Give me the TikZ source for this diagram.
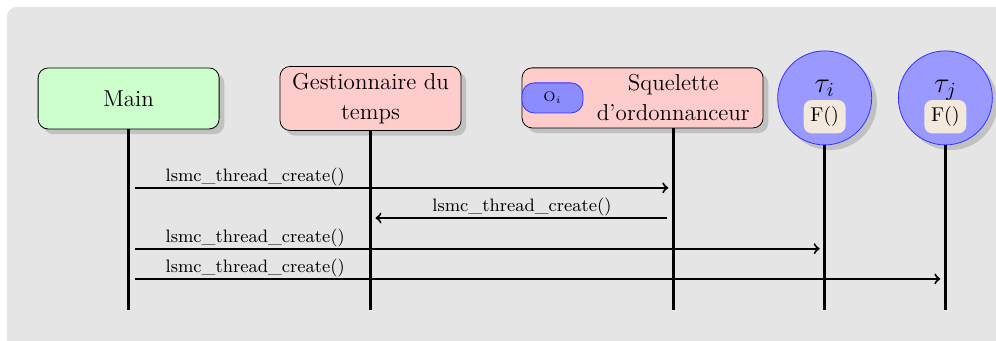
\documentclass[tikz,border=0pt]{standalone}
\usepackage{tikz}
\usetikzlibrary{shadows,calc}

\definecolor{fnbg}{RGB}{242,232,220}

\tikzset{
  shade/.style={drop shadow={shadow xshift=2.6pt, shadow yshift=-2.6pt, opacity=0.35}},
  actor/.style={draw, rounded corners=5pt, minimum height=30.5pt, minimum width=90.5pt,
    align=center, font=\fontsize{11.5}{15}\selectfont, shade},
  thread/.style={circle, draw=blue!80, fill=blue!40, minimum size=47pt, shade},
  pill/.style={draw=blue!80, fill=blue!45, rounded corners=6pt, minimum width=30.5pt,
    minimum height=15pt, font=\scriptsize},
  fnbox/.style={fill=fnbg, rounded corners=4pt},
  lifeline/.style={line width=1.5pt},
  msg/.style={->, line width=1pt, shorten <=3pt, shorten >=2.5pt},
  msglabel/.style={font=\small, inner sep=0.5pt},
}

\begin{document}
\begin{tikzpicture}
    \useasboundingbox (0,0) rectangle (17.5,5.99);
    \fill[black!10, rounded corners=5pt] (0.12,-0.3) rectangle (17.8,5.87);

    % acteurs
    \node[actor, fill=green!20] (main) at (2.26,4.26) {Main};
    \node[actor, fill=red!20] (gest) at (6.51,4.26) {Gestionnaire du\\temps};
    \node[actor, fill=red!20, minimum width=120.5pt, minimum height=30pt] (sqbox) at (11.29,4.27) {};
    \node[pill, anchor=west] (oi) at (sqbox.west) {$\mathrm{O}_i$};
    \node[align=center, font=\fontsize{11.5}{15}\selectfont] (sq) at (11.83,4.27) {Squelette\\d'ordonnanceur};
    \foreach \n/\x/\s in {ti/14.49/i, tj/16.61/j} {
        \node[thread] (\n) at (\x,4.27) {};
        \node[anchor=base, font=\Large] (tau\s) at ($(\n)+(0,0.1)$) {$\tau_\s$};
        \node[fnbox] (f\s) at ($(\n)+(0,-0.33)$) {F()};
    }

    % lignes de vie
    \draw[lifeline] (main.south) -- (main.south |- 0,0.55);
    \draw[lifeline] (gest.south) -- (gest.south |- 0,0.55);
    \draw[lifeline] (sq.south |- sqbox.south) -- (sq.south |- 0,0.55);
    \draw[lifeline] (ti.south) -- (ti.south |- 0,0.55);
    \draw[lifeline] (tj.south) -- (tj.south |- 0,0.55);

    % messages
    \foreach \to/\y in {sq/2.69, ti/1.62, tj/1.09}
        \draw[msg] (main.south |- 0,\y) -- (\to.south |- 0,\y)
            node[msglabel, pos=0, above right, xshift=17.5pt] {lsmc\_thread\_create()};
    \draw[msg] (sq.south |- 0,2.16) -- (gest.south |- 0,2.16)
        node[msglabel, midway, above] {lsmc\_thread\_create()};
\end{tikzpicture}
\end{document}
